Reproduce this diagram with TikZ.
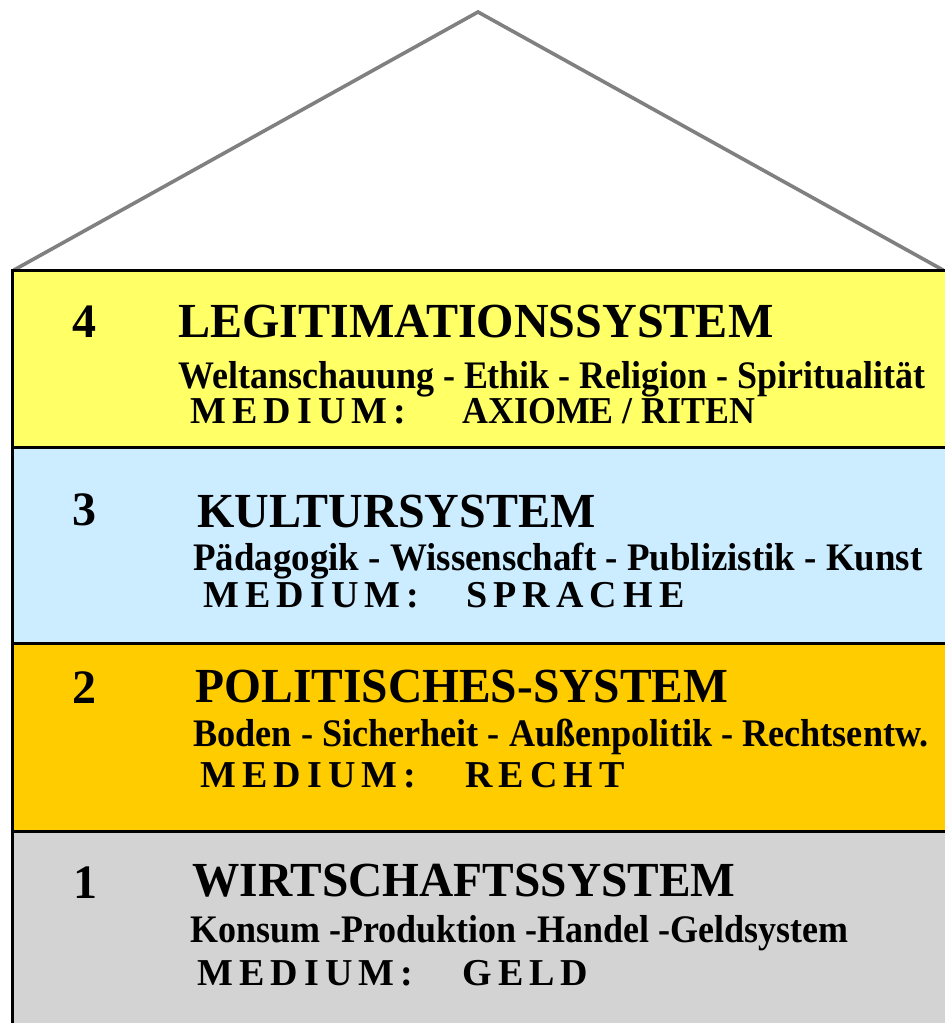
\documentclass[tikz,border=0pt]{standalone}
\usepackage{fontspec}
\setmainfont{Liberation Serif}
\usepackage{graphicx}
\usepackage{xcolor}
\usepackage{tikz}

\definecolor{legitgelb}{HTML}{FFFF66}
\definecolor{kulturblau}{HTML}{CCECFF}
\definecolor{politikgelb}{HTML}{FFCC00}
\definecolor{wirtschaftgrau}{HTML}{D3D3D3}
\definecolor{dachgrau}{HTML}{808080}

\begin{document}
\begin{tikzpicture}[x=0.5pt,y=-0.5pt,
  ebene/.style={draw=black,line width=1.5pt},
  nummer/.style={anchor=base west,inner sep=0pt,font=\fontsize{24}{28}\selectfont\bfseries},
  titel/.style={anchor=base west,inner sep=0pt,font=\fontsize{24.5}{28}\selectfont\bfseries},
  zusatz/.style={anchor=base west,inner sep=0pt,font=\fontsize{19.5}{22}\selectfont\bfseries},
  medium/.style={anchor=base west,inner sep=0pt,font=\fontsize{19}{22}\selectfont\bfseries\addfontfeatures{LetterSpace=16}},
  wert/.style={anchor=base west,inner sep=0pt,font=\fontsize{19}{22}\selectfont\bfseries}]
\useasboundingbox (0,0) rectangle (945,1023);

% Dach
\draw[dachgrau,line width=1.8pt] (14,270)--(478,12)--(943,270);

% Ebenen
\draw[ebene,fill=legitgelb](12,270) rectangle (960,447);
\draw[ebene,fill=kulturblau](12,447) rectangle (960,643);
\draw[ebene,fill=politikgelb](12,643) rectangle (960,831);
\draw[ebene,fill=wirtschaftgrau](12,831) rectangle (960,1030);

% 4
\node[nummer] (n4) at (72,337) {4};
\node[titel] (t4) at (178,337) {\resizebox{297.5pt}{\height}{LEGITIMATIONSSYSTEM}};
\node[zusatz] (z4) at (178,388) {\resizebox{373.5pt}{\height}{Weltanschauung - Ethik - Religion - Spiritualität}};
\node[medium] (m4) at (190,423) {MEDIUM:};
\node[wert] (w4) at (462,423) {\resizebox{146.5pt}{\height}{AXIOME / RITEN}};

% 3
\node[nummer] (n3) at (72,525) {3};
\node[titel] (t3) at (197,527) {\resizebox{199pt}{\height}{KULTURSYSTEM}};
\node[zusatz] (z3) at (193,570) {\resizebox{364.5pt}{\height}{Pädagogik - Wissenschaft - Publizistik - Kunst}};
\node[medium] (m3) at (203,607) {MEDIUM:};
\node[medium] (w3) at (466,607) {SPRACHE};

% 2
\node[nummer] (n2) at (72,703) {2};
\node[titel] (t2) at (195,702) {\resizebox{266.5pt}{\height}{POLITISCHES-SYSTEM}};
\node[zusatz] (z2) at (193,746) {\resizebox{367.5pt}{\height}{Boden - Sicherheit - Außenpolitik - Rechtsentw.}};
\node[medium] (m2) at (200,787) {MEDIUM:};
\node[medium] (w2) at (465,787) {RECHT};

% 1
\node[nummer] (n1) at (73,898) {1};
\node[titel] (t1) at (192,896) {\resizebox{271.5pt}{\height}{WIRTSCHAFTSSYSTEM}};
\node[zusatz] (z1) at (190,942) {\resizebox{329pt}{\height}{Konsum -Produktion -Handel -Geldsystem}};
\node[medium] (m1) at (197,985) {MEDIUM:};
\node[medium] (w1) at (462,985) {GELD};
\end{tikzpicture}
\end{document}
